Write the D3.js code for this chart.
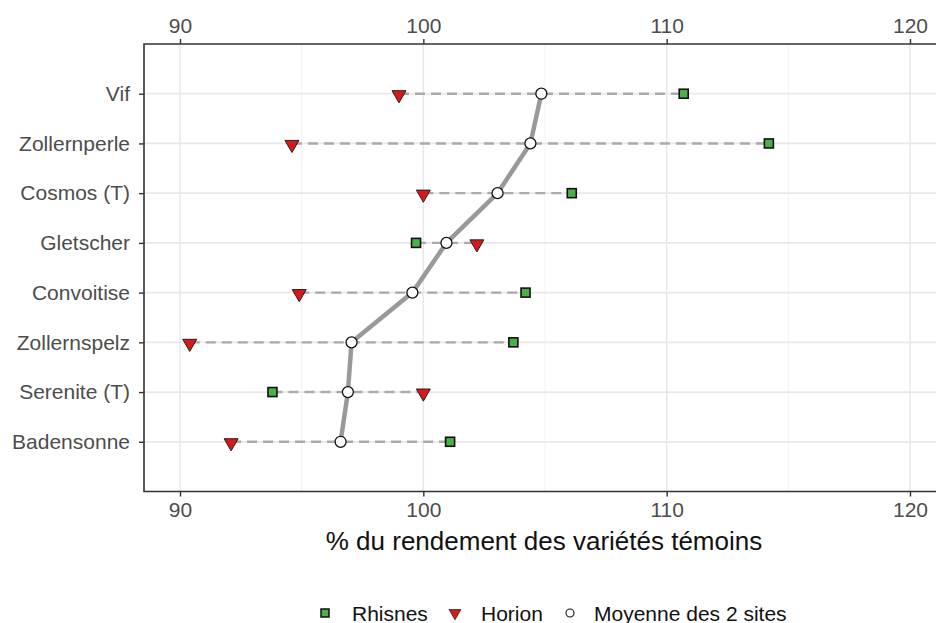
<!DOCTYPE html>
<html>
<head>
<meta charset="utf-8">
<script src="https://cdn.jsdelivr.net/npm/d3@7"></script>
<style>
  body { margin: 0; background: #fff; }
  svg { font-family: "Liberation Sans", Arial, sans-serif; }
</style>
</head>
<body>
<svg id="chart"></svg>
<script>
// varieties, top to bottom
const varieties = ["Vif", "Zollernperle", "Cosmos (T)", "Gletscher", "Convoitise", "Zollernspelz", "Serenite (T)", "Badensonne"];
// % of control yield per site
const rhisnes = [110.7, 114.2, 106.1, 99.7, 104.2, 103.7, 93.8, 101.1];
const horion  = [99.0, 94.6, 100.0, 102.2, 94.9, 90.4, 100.0, 92.1];
const moyenne = [104.85, 104.4, 103.05, 100.95, 99.55, 97.05, 96.9, 96.6];
const majorTicks = [90, 100, 110, 120];
const minorTicks = [95, 105, 115];
const legendLabels = ["Rhisnes", "Horion", "Moyenne des 2 sites"];

const width = 936, height = 623;
const svg = d3.select("#chart").attr("width", width).attr("height", height);

const panel = {left: 144, top: 44, right: 960, bottom: 491.5};

const x = d3.scaleLinear()
    .domain([90, 120])
    .range([180, 910]);

const y = d3.scalePoint()
    .domain(varieties)
    .range([panel.top, panel.bottom])
    .padding(1);

const rows = varieties.map((v, i) => ({name: v, rh: rhisnes[i], ho: horion[i], mo: moyenne[i]}));

// grid
const grid = svg.append("g");
grid.selectAll(".minor").data(minorTicks).join("line")
    .attr("x1", d => x(d)).attr("x2", d => x(d))
    .attr("y1", panel.top).attr("y2", panel.bottom)
    .attr("stroke", "#f2f2f2").attr("stroke-width", 1);
grid.selectAll(".major").data(majorTicks).join("line")
    .attr("x1", d => x(d)).attr("x2", d => x(d))
    .attr("y1", panel.top).attr("y2", panel.bottom)
    .attr("stroke", "#e8e8e8").attr("stroke-width", 1.5);
grid.selectAll(".hrow").data(varieties).join("line")
    .attr("x1", panel.left).attr("x2", panel.right)
    .attr("y1", d => y(d)).attr("y2", d => y(d))
    .attr("stroke", "#e8e8e8").attr("stroke-width", 1.8);

// dashed segments between sites
svg.append("g").selectAll("line").data(rows).join("line")
    .attr("x1", d => x(Math.min(d.rh, d.ho)))
    .attr("x2", d => x(Math.max(d.rh, d.ho)))
    .attr("y1", d => y(d.name)).attr("y2", d => y(d.name))
    .attr("stroke", "#aaaaaa").attr("stroke-width", 2.4)
    .attr("stroke-dasharray", "10,6");

// mean line
const line = d3.line().x(d => x(d.mo)).y(d => y(d.name));
svg.append("path").datum(rows)
    .attr("d", line)
    .attr("fill", "none")
    .attr("stroke", "#999999")
    .attr("stroke-width", 4.5)
    .attr("stroke-linejoin", "round");

// markers
const sq = 9;
const tri = d3.symbol().type(d3.symbolTriangle).size(85);

function drawSquare(sel) {
  sel.append("rect")
    .attr("x", -sq / 2).attr("y", -sq / 2)
    .attr("width", sq).attr("height", sq)
    .attr("fill", "#4daf4a").attr("stroke", "#111").attr("stroke-width", 1.6);
}
function drawTriangle(sel) {
  sel.append("path")
    .attr("d", tri)
    .attr("transform", "rotate(180) translate(0,-1)")
    .attr("fill", "#d7191c").attr("stroke", "#222").attr("stroke-width", 1);
}
function drawCircle(sel) {
  sel.append("circle").attr("r", 5.5)
    .attr("fill", "#fff").attr("stroke", "#111").attr("stroke-width", 1.3);
}

svg.append("g").selectAll("g").data(rows).join("g")
    .attr("transform", d => `translate(${x(d.rh)},${y(d.name)})`)
    .call(drawSquare);
svg.append("g").selectAll("g").data(rows).join("g")
    .attr("transform", d => `translate(${x(d.ho)},${y(d.name)})`)
    .call(drawTriangle);
svg.append("g").selectAll("g").data(rows).join("g")
    .attr("transform", d => `translate(${x(d.mo)},${y(d.name)})`)
    .call(drawCircle);

// panel border (right side falls off the picture)
svg.append("path")
    .attr("d", `M${panel.right},${panel.top}H${panel.left}V${panel.bottom}H${panel.right}`)
    .attr("fill", "none").attr("stroke", "#333").attr("stroke-width", 1.6);

// axes
function styleAxis(g) {
  g.select(".domain").remove();
  g.selectAll(".tick line").attr("stroke", "#333").attr("stroke-width", 1.4);
  g.selectAll(".tick text").attr("fill", "#4d4d4d").style("font-size", "21px");
}
svg.append("g")
    .attr("transform", `translate(0,${panel.top})`)
    .call(d3.axisTop(x).tickValues(majorTicks).tickSize(5).tickPadding(6))
    .call(styleAxis);
svg.append("g")
    .attr("transform", `translate(0,${panel.bottom})`)
    .call(d3.axisBottom(x).tickValues(majorTicks).tickSize(5).tickPadding(6))
    .call(styleAxis);
svg.append("g")
    .attr("transform", `translate(${panel.left},0)`)
    .call(d3.axisLeft(y).tickSize(5).tickPadding(9))
    .call(styleAxis);

// axis title
svg.append("text")
    .attr("x", 544).attr("y", 550)
    .attr("text-anchor", "middle")
    .style("font-size", "26px").attr("fill", "#111")
    .text("% du rendement des variétés témoins");

// legend
const legend = svg.append("g").attr("transform", "translate(0,613)");
const keyX = [325, 455, 570];
const textX = [352, 481, 594];
const legendDraw = [
  s => { s.append("rect").attr("x", -4).attr("y", -4).attr("width", 8).attr("height", 8)
          .attr("fill", "#4daf4a").attr("stroke", "#111").attr("stroke-width", 1.5); },
  s => { s.append("path").attr("d", d3.symbol().type(d3.symbolTriangle).size(60))
          .attr("transform", "rotate(180)").attr("fill", "#d7191c").attr("stroke", "#222").attr("stroke-width", 0.8); },
  s => { s.append("circle").attr("r", 4).attr("fill", "#fff").attr("stroke", "#111").attr("stroke-width", 1.1); }
];
legendLabels.forEach((lab, i) => {
  legend.append("g").attr("transform", `translate(${keyX[i]},0)`).call(legendDraw[i]);
  legend.append("text").attr("x", textX[i]).attr("y", 7.5)
      .style("font-size", "21px").attr("fill", "#111").text(lab);
});
</script>
</body>
</html>
